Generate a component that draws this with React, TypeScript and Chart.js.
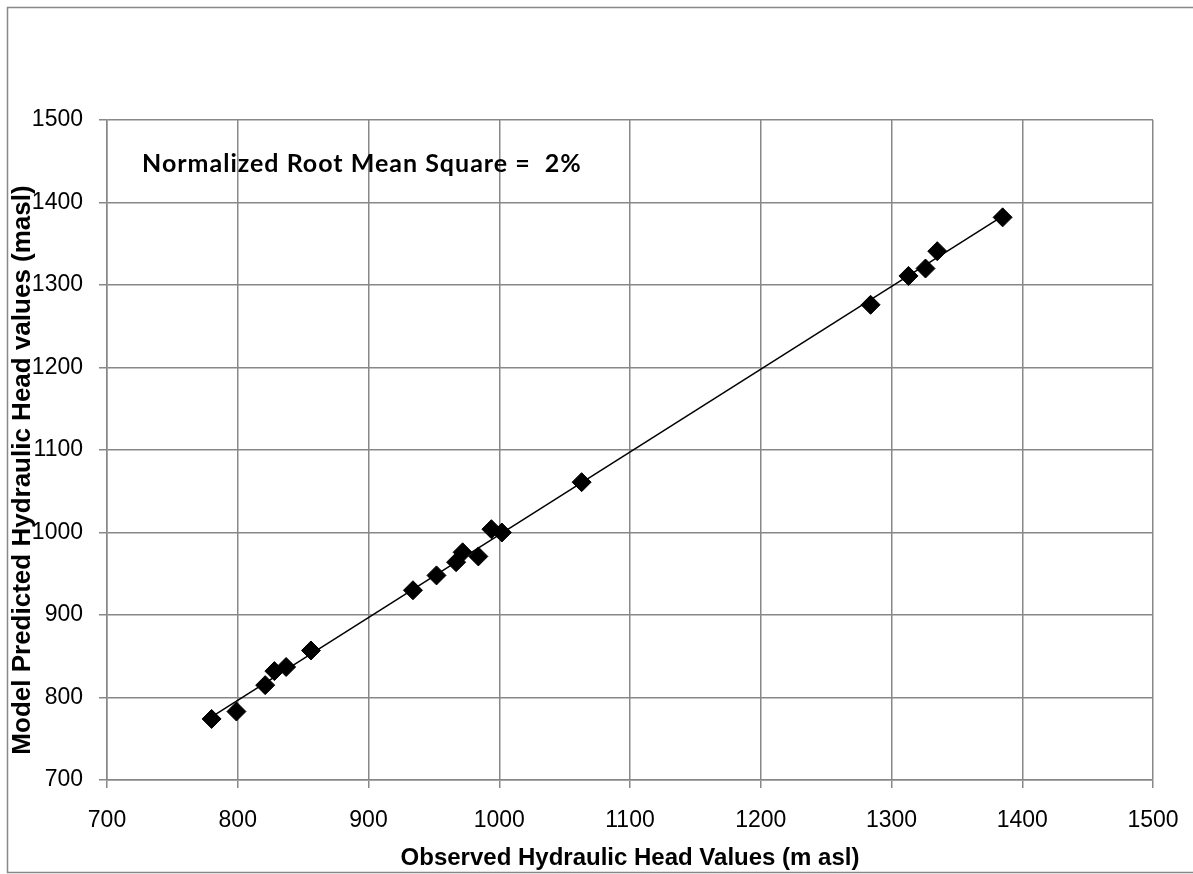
import React, { useEffect, useRef } from "react";
import { Chart, registerables } from "chart.js";

Chart.register(...registerables);

const observed = [780, 799, 821, 828, 837, 856, 934, 952, 967, 972, 984, 994, 1002, 1063, 1284, 1313, 1326, 1335, 1385];
const predicted = [774, 783, 815, 832, 837, 857, 930, 948, 964, 976, 971, 1004, 1000, 1061, 1276, 1311, 1320, 1341, 1382];
const axisMin = 700;
const axisMax = 1500;
const axisStep = 100;
const xTitle = "Observed Hydraulic Head Values (m asl)";
const yTitle = "Model Predicted Hydraulic Head values (masl)";
const annotation = "Normalized Root Mean Square =  2%";

function fitLine(xs: number[], ys: number[]) {
  const n = xs.length;
  const mx = xs.reduce((a, b) => a + b, 0) / n;
  const my = ys.reduce((a, b) => a + b, 0) / n;
  let sxy = 0, sxx = 0;
  for (let i = 0; i < n; i++) {
    sxy += (xs[i] - mx) * (ys[i] - my);
    sxx += (xs[i] - mx) ** 2;
  }
  const slope = sxy / sxx;
  const icpt = my - slope * mx;
  const x0 = Math.min(...xs);
  const x1 = Math.max(...xs);
  return [
    { x: x0, y: slope * x0 + icpt },
    { x: x1, y: slope * x1 + icpt },
  ];
}

const W = 1193;
const H = 874;
const PLOT_LEFT = 107;
const PLOT_RIGHT = 1153;
const PLOT_TOP = 120;
const PLOT_BOTTOM = 780;
const GRID = "rgb(136,136,136)";

const decorPlugin = {
  id: "decor",
  beforeDraw(chart: any) {
    const ctx = chart.ctx;
    ctx.save();
    ctx.fillStyle = "#ffffff";
    ctx.fillRect(0, 0, W, H);
    ctx.strokeStyle = "rgb(136,136,136)";
    ctx.lineWidth = 1.5;
    ctx.beginPath();
    ctx.moveTo(W + 5, 7.5);
    ctx.lineTo(7.5, 7.5);
    ctx.lineTo(7.5, 872.5);
    ctx.lineTo(W + 5, 872.5);
    ctx.stroke();
    ctx.restore();
  },
  afterDraw(chart: any) {
    const ctx = chart.ctx;
    ctx.save();
    ctx.fillStyle = "#000";
    ctx.font = "bold 25px Lato";
    (ctx as any).letterSpacing = "1px";
    ctx.textBaseline = "alphabetic";
    ctx.textAlign = "left";
    ctx.fillText(annotation, 142, 172);
    (ctx as any).letterSpacing = "0px";

    ctx.font = "bold 24px 'Liberation Sans'";
    ctx.textAlign = "center";
    ctx.fillText(xTitle, 630, 865);

    ctx.font = "bold 26px 'Liberation Sans'";
    ctx.translate(30, 470);
    ctx.rotate(-Math.PI / 2);
    ctx.fillText(yTitle, 0, 0);
    ctx.restore();
  },
};

export default function App() {
  const ref = useRef<HTMLCanvasElement | null>(null);
  useEffect(() => {
    if (!ref.current) return;
    const points = observed.map((x, i) => ({ x, y: predicted[i] }));
    const trend = fitLine(observed, predicted);
    const tickFont = { family: "'Liberation Sans'", size: 23 };
    const plain = (v: any) => String(v);
    const chart = new Chart(ref.current, {
      type: "scatter",
      data: {
        datasets: [
          {
            type: "line",
            label: "Trend",
            data: trend,
            borderColor: "#000",
            borderWidth: 1.5,
            pointRadius: 0,
            showLine: true,
            fill: false,
          } as any,
          {
            label: "Heads",
            data: points,
            pointStyle: "rectRot",
            pointRadius: 9.5,
            backgroundColor: "#000",
            borderColor: "#000",
            borderWidth: 1,
          },
        ],
      },
      options: {
        animation: false,
        responsive: false,
        events: [],
        layout: { padding: { left: 0, top: PLOT_TOP, right: W - PLOT_RIGHT, bottom: 0 } },
        plugins: { legend: { display: false }, tooltip: { enabled: false } },
        scales: {
          x: {
            type: "linear",
            min: axisMin,
            max: axisMax,
            ticks: { stepSize: axisStep, color: "#000", font: tickFont, padding: 19, maxRotation: 0, callback: plain },
            grid: { color: GRID, lineWidth: 1.5, tickLength: 8, drawTicks: true },
            border: { color: GRID, width: 1.5 },
            afterFit(scale: any) {
              scale.height = H - PLOT_BOTTOM;
              scale.paddingLeft = 0;
              scale.paddingRight = 0;
            },
          },
          y: {
            type: "linear",
            min: axisMin,
            max: axisMax,
            ticks: { stepSize: axisStep, color: "#000", font: tickFont, padding: 16, callback: plain },
            grid: { color: GRID, lineWidth: 1.5, tickLength: 8, drawTicks: true },
            border: { color: GRID, width: 1.5 },
            afterFit(scale: any) {
              scale.width = PLOT_LEFT;
              scale.paddingTop = 0;
              scale.paddingBottom = 0;
            },
          },
        },
      },
      plugins: [decorPlugin],
    });
    return () => chart.destroy();
  }, []);
  return (
    <div style={{ position: "absolute", left: 0, top: 0, width: W, height: H }}>
      <canvas ref={ref} width={W} height={H} style={{ display: "block", width: W, height: H }} />
    </div>
  );
}
